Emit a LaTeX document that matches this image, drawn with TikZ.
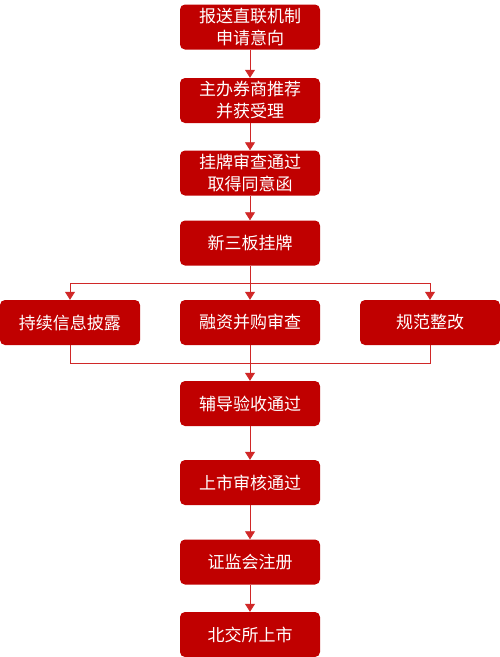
\documentclass[tikz,border=0pt]{standalone}
\usepackage{fontspec}
\newfontfamily\cjk{Noto Sans CJK SC}
\usetikzlibrary{arrows.meta}
\definecolor{boxred}{HTML}{C00000}
\definecolor{linered}{HTML}{D02828}
\begin{document}
\begin{tikzpicture}[x=1pt,y=-1pt,
  box/.style={fill=boxred, rounded corners=5pt, minimum width=140pt, minimum height=45pt,
    inner sep=0pt, text=white, align=center, font=\cjk\fontsize{17}{22}\selectfont},
  conn/.style={draw=linered, line width=0.8pt},
  arr/.style={conn, -{Triangle[width=10pt,length=8pt]}}]
\useasboundingbox (0,0) rectangle (500,657);
\node[box] (b1) at (250,27) {报送直联机制\\申请意向};
\node[box] (b2) at (250,100.5) {主办券商推荐\\并获受理};
\node[box] (b3) at (250,173) {挂牌审查通过\\取得同意函};
\node[box] (b4) at (250,243) {新三板挂牌};
\node[box] (l) at (70,322.5) {持续信息披露};
\node[box] (m) at (250,322.5) {融资并购审查};
\node[box] (r) at (430,322.5) {规范整改};
\node[box] (b5) at (250,403.5) {辅导验收通过};
\node[box] (b6) at (250,482.5) {上市审核通过};
\node[box] (b7) at (250,562) {证监会注册};
\node[box] (b8) at (250,634.5) {北交所上市};
\coordinate (split) at (250,283);
\coordinate (merge) at (250,363);
\draw[arr] (b1) -- (b2);
\draw[arr] (b2) -- (b3);
\draw[arr] (b3) -- (b4);
\draw[arr] (b4) -- (m);
\draw[arr] (split) -| (l.north);
\draw[arr] (split) -| (r.north);
\draw[conn] (l.south) |- (merge);
\draw[conn] (r.south) |- (merge);
\draw[arr] (m) -- (b5);
\draw[arr] (b5) -- (b6);
\draw[arr] (b6) -- (b7);
\draw[arr] (b7) -- (b8);
\end{tikzpicture}
\end{document}
